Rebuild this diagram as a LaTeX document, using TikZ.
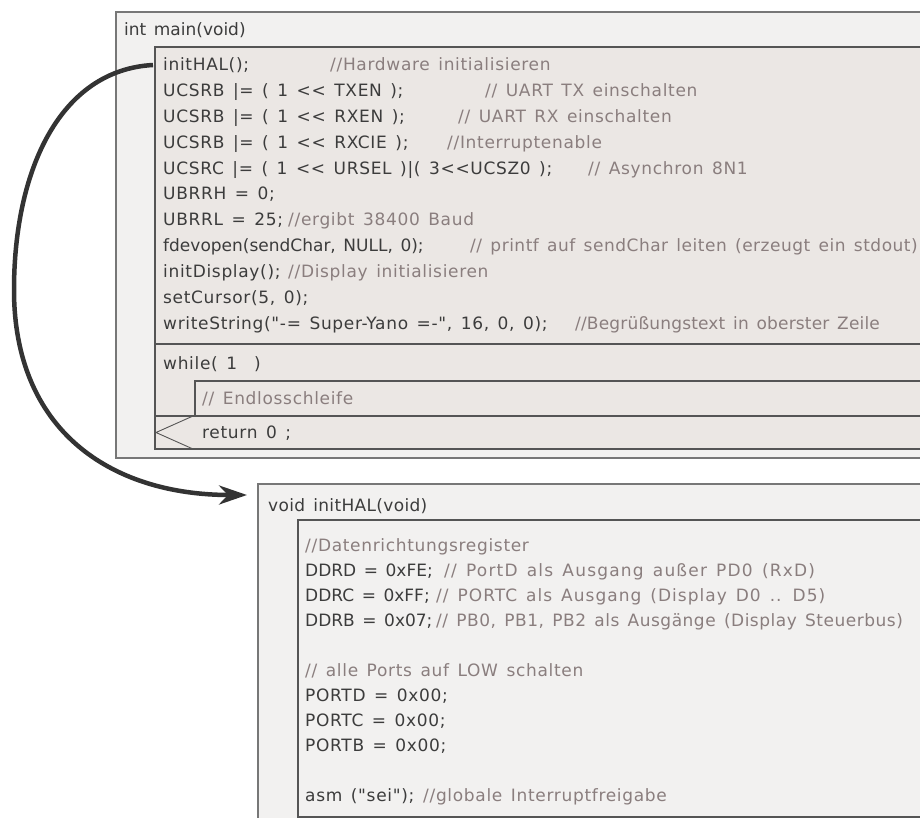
\documentclass[tikz,border=0pt]{standalone}
\usepackage{fontspec}
\setmainfont{DejaVu Sans}[Ligatures=TeXOff, LetterSpace=4, WordSpace=1.4]
\usetikzlibrary{arrows.meta}
\definecolor{panel}{HTML}{F2F1F0}
\definecolor{block}{HTML}{EBE7E4}
\definecolor{frame}{HTML}{555555}
\definecolor{codec}{HTML}{3C3C3C}
\definecolor{commentc}{HTML}{8A7E7E}
\definecolor{pen}{HTML}{333333}
% one line with its own letter spacing (percent of the font size)
\newcommand\lsp[2]{{\addfontfeature{LetterSpace=#1}#2}}

\begin{document}
\begin{tikzpicture}[x=1pt,y=-1pt,
  box/.style={draw=frame, line width=1.3pt},
  code/.style={anchor=base west, inner sep=0pt, text=codec, font=\fontsize{17}{20}\selectfont},
  rem/.style={code, text=commentc},
  callarrow/.style={draw=pen, line width=4.5pt, -{Stealth[length=28pt,width=19pt]}}
]
\useasboundingbox (0,0) rectangle (920,818);
\begin{scope}
\clip (0,0) rectangle (920,818);

% ---- int main(void) -------------------------------------------------
\draw[box, fill=panel, draw=frame!80] (116,12) rectangle (950,458);
\draw[box, fill=block] (155,47) rectangle (950,449);
\draw[box] (155,344) -- (950,344);
\draw[box] (195,416) |- (950,381);
\draw[box] (155,416) -- (950,416);
\draw[frame, line width=0.9pt] (193,416) -- (156,432.5) -- (193,449);

\node[code] (mainhead) at (124,36) {\lsp{0}{int main(void)}};

\node[code] (l1)  at (163,71)    {initHAL();};
\node[rem]  (r1)  at (330,71)    {//Hardware initialisieren};
\node[code] (l2)  at (163,96.8)  {UCSRB |= ( 1 << TXEN );};
\node[rem]  (r2)  at (485,96.8)  {// UART TX einschalten};
\node[code] (l3)  at (163,122.6) {UCSRB |= ( 1 << RXEN );};
\node[rem]  (r3)  at (458,122.6) {// UART RX einschalten};
\node[code] (l4)  at (163,148.4) {UCSRB |= ( 1 << RXCIE );};
\node[rem]  (r4)  at (447,148.4) {//Interruptenable};
\node[code] (l5)  at (163,174.2) {UCSRC |= ( 1 << URSEL )|( 3<<UCSZ0 );};
\node[rem]  (r5)  at (588,174.2) {// Asynchron 8N1};
\node[code] (l6)  at (163,200)   {UBRRH = 0;};
\node[code] (l7)  at (163,225.8) {UBRRL = 25;};
\node[rem]  (r7)  at (288,225.8) {//ergibt 38400 Baud};
\node[code] (l8)  at (163,251.6) {\lsp{0}{fdevopen(sendChar, NULL, 0);}};
\node[rem]  (r8)  at (470,251.6) {\lsp{3}{// printf auf sendChar leiten (erzeugt ein stdout)}};
\node[code] (l9)  at (163,277.4) {initDisplay();};
\node[rem]  (r9)  at (288,277.4) {//Display initialisieren};
\node[code] (l10) at (163,303.2) {setCursor(5, 0);};
\node[code] (l11) at (163,329)   {writeString("-= Super-Yano =-", 16, 0, 0);};
\node[rem]  (r11) at (575,329)   {\lsp{1}{//Begrüßungstext in oberster Zeile}};

\node[code] (loop) at (163,369)   {while( 1~~)};
\node[rem]  (body) at (202,404.5) {// Endlosschleife};
\node[code] (ret)  at (202,438.5) {return 0 ;};

% ---- void initHAL(void) ----------------------------------------------
\draw[box, fill=panel, draw=frame!80] (258,484) rectangle (950,840);
\draw[box, fill=panel] (298,520) rectangle (950,817);

\node[code] (halhead) at (268,511) {\lsp{2}{void initHAL(void)}};

\node[rem]  (h1) at (305,551) {//Datenrichtungsregister};
\node[code] (h2) at (305,576) {\lsp{0}{DDRD = 0xFE;}};
\node[rem]  (g2) at (444,576) {\lsp{7}{// PortD als Ausgang außer PD0 (RxD)}};
\node[code] (h3) at (305,601) {\lsp{0}{DDRC = 0xFF;}};
\node[rem]  (g3) at (436,601) {\lsp{6}{// PORTC als Ausgang (Display D0 .. D5)}};
\node[code] (h4) at (305,626) {\lsp{0}{DDRB = 0x07;}};
\node[rem]  (g4) at (436,626) {\lsp{3}{// PB0, PB1, PB2 als Ausgänge (Display Steuerbus)}};
\node[rem]  (h5) at (305,676) {// alle Ports auf LOW schalten};
\node[code] (h6) at (305,701) {PORTD = 0x00;};
\node[code] (h7) at (305,726) {PORTC = 0x00;};
\node[code] (h8) at (305,751) {PORTB = 0x00;};
\node[code] (h9) at (305,801) {asm ("sei");};
\node[rem]  (g9) at (423,801) {//globale Interruptfreigabe};

% ---- call of initHAL --------------------------------------------------
\coordinate (callsite) at (153,65);
\coordinate (entry) at (247,495);
\draw[callarrow] (callsite) .. controls (60,70) and (14,170) .. (14,290)
  .. controls (14,430) and (110,495) .. (entry);
\end{scope}
\end{tikzpicture}
\end{document}
